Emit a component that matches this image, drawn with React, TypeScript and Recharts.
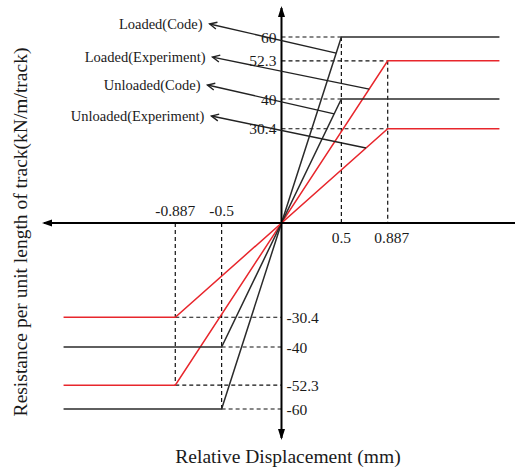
import React from 'react';
import { LineChart, Line, XAxis, YAxis, ReferenceLine, ReferenceDot } from 'recharts';

// bilinear resistance models (mm, kN/m/track)
const seriesNames = ['Loaded(Code)', 'Loaded(Experiment)', 'Unloaded(Code)', 'Unloaded(Experiment)'];
const yieldDisplacement = [0.5, 0.887, 0.5, 0.887];
const yieldResistance = [60, 52.3, 40, 30.4];
const seriesColors = ['#2b2b2b', '#e8262c', '#2b2b2b', '#e8262c'];
const plateauEnds = [-1.82, 1.82];

// callouts: label end point and where the arrow touches its line (resistance)
const calloutHeadX = [-0.6, -0.576, -0.618, -0.585];
const calloutHeadY = [64.2, 53.5, 44.5, 34.5];
const calloutTouchY = [54.8, 43.2, 35.2, 24.2];

const xTickValues = [-0.887, -0.5, 0.5, 0.887];
const xTickLabels = ['-0.887', '-0.5', '0.5', '0.887'];
const yTickValues = [60, 52.3, 40, 30.4, -30.4, -40, -52.3, -60];
const yTickLabels = ['60', '52.3', '40', '30.4', '-30.4', '-40', '-52.3', '-60'];

const FONT = '"Liberation Serif", "Times New Roman", serif';

const seriesData = seriesNames.map((_, i) => [
  { x: plateauEnds[0], y: -yieldResistance[i] },
  { x: -yieldDisplacement[i], y: -yieldResistance[i] },
  { x: yieldDisplacement[i], y: yieldResistance[i] },
  { x: plateauEnds[1], y: yieldResistance[i] },
]);

// dashed guides from the yield points to the axes
const guides: { x: number; y: number }[][] = [];
seriesNames.forEach((_, i) => {
  const d = yieldDisplacement[i];
  const f = yieldResistance[i];
  guides.push([{ x: 0, y: f }, { x: d, y: f }]);
  guides.push([{ x: -d, y: -f }, { x: 0, y: -f }]);
  if (i < 2) {
    guides.push([{ x: d, y: f }, { x: d, y: 0 }]);
    guides.push([{ x: -d, y: 0 }, { x: -d, y: -f }]);
  }
});

const Arrow = (tipX: number, tipY: number, dx: number, dy: number, len: number, half: number) => {
  // filled triangle pointing along (dx, dy)
  const bx = tipX - dx * len;
  const by = tipY - dy * len;
  const px = -dy * half;
  const py = dx * half;
  return <polygon points={`${tipX},${tipY} ${bx + px},${by + py} ${bx - px},${by - py}`} fill="#000" />;
};

const XAxisShape = (p: any) => {
  const left = Math.min(p.x1, p.x2);
  const right = Math.max(p.x1, p.x2);
  return (
    <g>
      <line x1={left + 2} y1={p.y1} x2={right} y2={p.y2} stroke="#000" strokeWidth={2} />
      {Arrow(left, p.y1, -1, 0, 10, 3.5)}
    </g>
  );
};

const YAxisShape = (p: any) => {
  const top = Math.min(p.y1, p.y2);
  const bottom = Math.max(p.y1, p.y2);
  return (
    <g>
      <line x1={p.x1} y1={top + 2} x2={p.x1} y2={bottom - 2} stroke="#000" strokeWidth={2} />
      {Arrow(p.x1, top, 0, -1, 11, 3.5)}
      {Arrow(p.x1, bottom, 0, 1, 11, 3.5)}
    </g>
  );
};

const CalloutShape = (p: any) => {
  const dx = p.x2 - p.x1;
  const dy = p.y2 - p.y1;
  const l = Math.hypot(dx, dy);
  const ux = dx / l;
  const uy = dy / l;
  const a = 0.45;
  const len = 8;
  const r1x = p.x1 + len * (ux * Math.cos(a) - uy * Math.sin(a));
  const r1y = p.y1 + len * (ux * Math.sin(a) + uy * Math.cos(a));
  const r2x = p.x1 + len * (ux * Math.cos(-a) - uy * Math.sin(-a));
  const r2y = p.y1 + len * (ux * Math.sin(-a) + uy * Math.cos(-a));
  return (
    <g stroke="#222" strokeWidth={1.4} fill="none">
      <line x1={p.x1} y1={p.y1} x2={p.x2} y2={p.y2} />
      <polyline points={`${r1x},${r1y} ${p.x1},${p.y1} ${r2x},${r2y}`} />
    </g>
  );
};

const textStyle = { fontFamily: FONT, fill: '#1a1a1a' };

export default function App() {
  return (
    <div style={{ position: 'absolute', left: 0, top: 0, width: 515, height: 470, background: '#fff' }}>
      <LineChart width={515} height={470} margin={{ top: 6, right: 0, bottom: 0, left: 0 }}>
        <XAxis
          type="number"
          dataKey="x"
          domain={[-2, 1.95]}
          allowDataOverflow
          height={30}
          axisLine={false}
          tickLine={false}
          tick={false}
          label={{
            content: () => (
              <text x={288} y={456} textAnchor="middle" dominantBaseline="central" fontSize={19.5} style={textStyle}>
                Relative Displacement (mm)
              </text>
            ),
          }}
        />
        <YAxis
          type="number"
          dataKey="y"
          domain={[-70, 70]}
          allowDataOverflow
          width={42}
          axisLine={false}
          tickLine={false}
          tick={false}
          label={{
            content: () => (
              <text
                x={20}
                y={232}
                transform="rotate(-90 20 232)"
                textAnchor="middle"
                dominantBaseline="central"
                fontSize={19.5}
                style={textStyle}
              >
                Resistance per unit length of track(kN/m/track)
              </text>
            ),
          }}
        />

        {guides.map((seg, i) => (
          <ReferenceLine key={`g-${i}`} segment={seg} stroke="#111" strokeWidth={1.2} strokeDasharray="4 3" />
        ))}

        {seriesData.map((data, i) => (
          <Line
            key={seriesNames[i]}
            data={data}
            dataKey="y"
            name={seriesNames[i]}
            stroke={seriesColors[i]}
            strokeWidth={1.5}
            dot={false}
            isAnimationActive={false}
          />
        ))}

        <ReferenceLine y={0} shape={XAxisShape} />
        <ReferenceLine x={0} shape={YAxisShape} />

        {seriesNames.map((name, i) => (
          <ReferenceLine
            key={`c-${i}`}
            segment={[
              { x: calloutHeadX[i], y: calloutHeadY[i] },
              { x: (yieldDisplacement[i] * calloutTouchY[i]) / yieldResistance[i], y: calloutTouchY[i] },
            ]}
            shape={CalloutShape}
          />
        ))}
        {seriesNames.map((name, i) => (
          <ReferenceDot
            key={`cl-${i}`}
            x={calloutHeadX[i]}
            y={calloutHeadY[i]}
            shape={(p: any) => (
              <text x={p.cx - 7} y={p.cy} textAnchor="end" dominantBaseline="central" fontSize={14.5} style={textStyle}>
                {name}
              </text>
            )}
          />
        ))}

        {yTickValues.map((v, i) => (
          <ReferenceDot
            key={`yt-${i}`}
            x={0}
            y={v}
            shape={(p: any) => (
              <text
                x={v > 0 ? p.cx - 5 : p.cx + 5}
                y={p.cy}
                textAnchor={v > 0 ? 'end' : 'start'}
                dominantBaseline="central"
                fontSize={15.5}
                style={textStyle}
              >
                {yTickLabels[i]}
              </text>
            )}
          />
        ))}
        {xTickValues.map((v, i) => (
          <ReferenceDot
            key={`xt-${i}`}
            x={v}
            y={0}
            shape={(p: any) => (
              <text
                x={p.cx + (v > 0.6 ? 4 : 0)}
                y={v < 0 ? p.cy - 13 : p.cy + 14}
                textAnchor="middle"
                dominantBaseline="central"
                fontSize={15.5}
                style={textStyle}
              >
                {xTickLabels[i]}
              </text>
            )}
          />
        ))}
      </LineChart>
    </div>
  );
}
